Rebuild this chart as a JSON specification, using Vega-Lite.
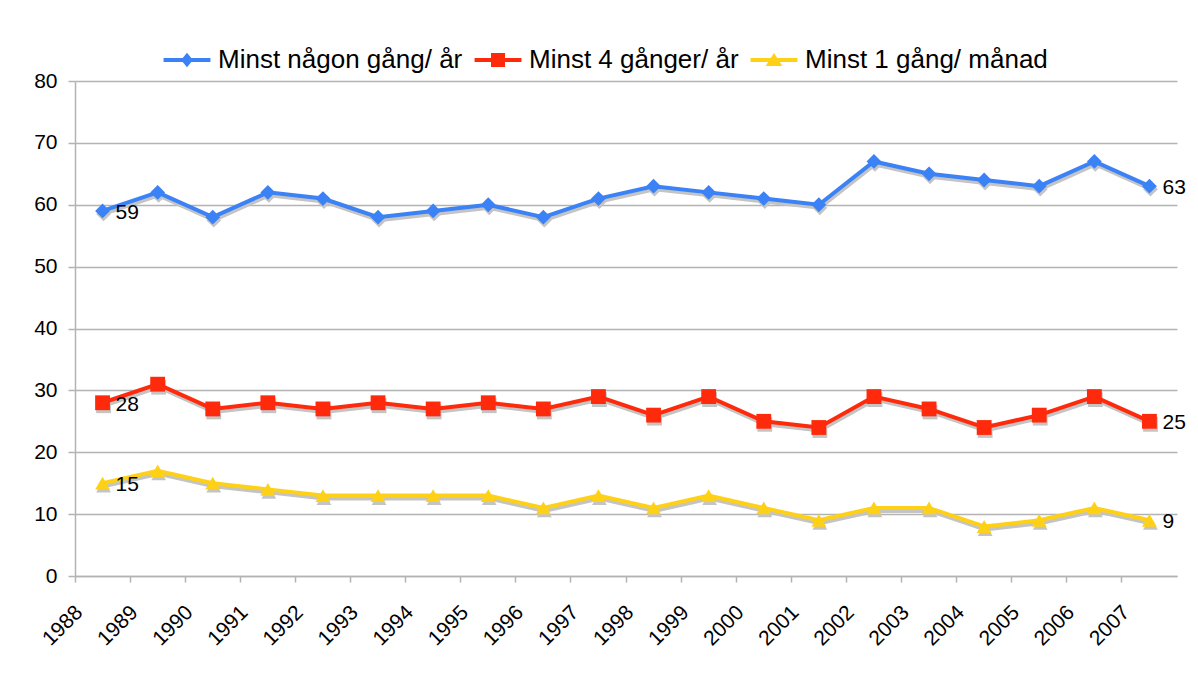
{
  "$schema": "https://vega.github.io/schema/vega-lite/v6.json",
  "width": 1102,
  "height": 495,
  "autosize": "none",
  "padding": {"left": 75, "top": 81, "right": 21, "bottom": 101},
  "background": "white",
  "config": {
    "view": {"stroke": null},
    "font": "Liberation Sans",
    "axis": {"labelFont": "Liberation Sans", "labelColor": "black", "domainColor": "#b3b3b3", "tickColor": "#b3b3b3", "gridColor": "#b3b3b3", "domainWidth": 1.5, "tickWidth": 1.5, "gridWidth": 1.5}
  },
  "data": {
    "values": [
      {"year": "1988", "series": "Minst någon gång/ år", "value": 59},
      {"year": "1989", "series": "Minst någon gång/ år", "value": 62},
      {"year": "1990", "series": "Minst någon gång/ år", "value": 58},
      {"year": "1991", "series": "Minst någon gång/ år", "value": 62},
      {"year": "1992", "series": "Minst någon gång/ år", "value": 61},
      {"year": "1993", "series": "Minst någon gång/ år", "value": 58},
      {"year": "1994", "series": "Minst någon gång/ år", "value": 59},
      {"year": "1995", "series": "Minst någon gång/ år", "value": 60},
      {"year": "1996", "series": "Minst någon gång/ år", "value": 58},
      {"year": "1997", "series": "Minst någon gång/ år", "value": 61},
      {"year": "1998", "series": "Minst någon gång/ år", "value": 63},
      {"year": "1999", "series": "Minst någon gång/ år", "value": 62},
      {"year": "2000", "series": "Minst någon gång/ år", "value": 61},
      {"year": "2001", "series": "Minst någon gång/ år", "value": 60},
      {"year": "2002", "series": "Minst någon gång/ år", "value": 67},
      {"year": "2003", "series": "Minst någon gång/ år", "value": 65},
      {"year": "2004", "series": "Minst någon gång/ år", "value": 64},
      {"year": "2005", "series": "Minst någon gång/ år", "value": 63},
      {"year": "2006", "series": "Minst någon gång/ år", "value": 67},
      {"year": "2007", "series": "Minst någon gång/ år", "value": 63},
      {"year": "1988", "series": "Minst 4 gånger/ år", "value": 28},
      {"year": "1989", "series": "Minst 4 gånger/ år", "value": 31},
      {"year": "1990", "series": "Minst 4 gånger/ år", "value": 27},
      {"year": "1991", "series": "Minst 4 gånger/ år", "value": 28},
      {"year": "1992", "series": "Minst 4 gånger/ år", "value": 27},
      {"year": "1993", "series": "Minst 4 gånger/ år", "value": 28},
      {"year": "1994", "series": "Minst 4 gånger/ år", "value": 27},
      {"year": "1995", "series": "Minst 4 gånger/ år", "value": 28},
      {"year": "1996", "series": "Minst 4 gånger/ år", "value": 27},
      {"year": "1997", "series": "Minst 4 gånger/ år", "value": 29},
      {"year": "1998", "series": "Minst 4 gånger/ år", "value": 26},
      {"year": "1999", "series": "Minst 4 gånger/ år", "value": 29},
      {"year": "2000", "series": "Minst 4 gånger/ år", "value": 25},
      {"year": "2001", "series": "Minst 4 gånger/ år", "value": 24},
      {"year": "2002", "series": "Minst 4 gånger/ år", "value": 29},
      {"year": "2003", "series": "Minst 4 gånger/ år", "value": 27},
      {"year": "2004", "series": "Minst 4 gånger/ år", "value": 24},
      {"year": "2005", "series": "Minst 4 gånger/ år", "value": 26},
      {"year": "2006", "series": "Minst 4 gånger/ år", "value": 29},
      {"year": "2007", "series": "Minst 4 gånger/ år", "value": 25},
      {"year": "1988", "series": "Minst 1 gång/ månad", "value": 15},
      {"year": "1989", "series": "Minst 1 gång/ månad", "value": 17},
      {"year": "1990", "series": "Minst 1 gång/ månad", "value": 15},
      {"year": "1991", "series": "Minst 1 gång/ månad", "value": 14},
      {"year": "1992", "series": "Minst 1 gång/ månad", "value": 13},
      {"year": "1993", "series": "Minst 1 gång/ månad", "value": 13},
      {"year": "1994", "series": "Minst 1 gång/ månad", "value": 13},
      {"year": "1995", "series": "Minst 1 gång/ månad", "value": 13},
      {"year": "1996", "series": "Minst 1 gång/ månad", "value": 11},
      {"year": "1997", "series": "Minst 1 gång/ månad", "value": 13},
      {"year": "1998", "series": "Minst 1 gång/ månad", "value": 11},
      {"year": "1999", "series": "Minst 1 gång/ månad", "value": 13},
      {"year": "2000", "series": "Minst 1 gång/ månad", "value": 11},
      {"year": "2001", "series": "Minst 1 gång/ månad", "value": 9},
      {"year": "2002", "series": "Minst 1 gång/ månad", "value": 11},
      {"year": "2003", "series": "Minst 1 gång/ månad", "value": 11},
      {"year": "2004", "series": "Minst 1 gång/ månad", "value": 8},
      {"year": "2005", "series": "Minst 1 gång/ månad", "value": 9},
      {"year": "2006", "series": "Minst 1 gång/ månad", "value": 11},
      {"year": "2007", "series": "Minst 1 gång/ månad", "value": 9}
    ]
  },
  "encoding": {
    "x": {
      "field": "year", "type": "ordinal",
      "scale": {"type": "band", "paddingInner": 0, "paddingOuter": 0},
      "axis": {"title": null, "bandPosition": 0, "labelAngle": -45, "labelAlign": "right", "labelBaseline": "middle", "labelFontSize": 21, "labelPadding": 27, "tickSize": 6, "grid": false, "labelOffset": -23}
    },
    "y": {
      "field": "value", "type": "quantitative",
      "scale": {"domain": [0, 80], "nice": false},
      "axis": {"title": null, "values": [0, 10, 20, 30, 40, 50, 60, 70, 80], "labelFontSize": 21, "tickSize": 7, "labelPadding": 11, "grid": true}
    }
  },
  "layer": [
    {
      "mark": {"type": "line", "color": "#c4c4c4", "strokeWidth": 4, "xOffset": 1, "yOffset": 3},
      "encoding": {"detail": {"field": "series"}}
    },
    {
      "transform": [{"filter": "datum.series === 'Minst någon gång/ år'"}],
      "mark": {"type": "point", "shape": "diamond", "filled": true, "opacity": 1, "color": "#c4c4c4", "xOffset": 1, "yOffset": 3, "size": 220}
    },
    {
      "transform": [{"filter": "datum.series === 'Minst 4 gånger/ år'"}],
      "mark": {"type": "point", "shape": "square", "filled": true, "opacity": 1, "color": "#c4c4c4", "xOffset": 1, "yOffset": 3, "size": 220}
    },
    {
      "transform": [{"filter": "datum.series === 'Minst 1 gång/ månad'"}],
      "mark": {"type": "point", "shape": "triangle-up", "filled": true, "opacity": 1, "color": "#c4c4c4", "xOffset": 1, "yOffset": 3, "size": 220}
    },
    {
      "mark": {"type": "line", "strokeWidth": 4},
      "encoding": {
        "color": {
          "field": "series", "type": "nominal",
          "scale": {"domain": ["Minst någon gång/ år", "Minst 4 gånger/ år", "Minst 1 gång/ månad"], "range": ["#3b82f6", "#ff2a0c", "#ffd116"]},
          "legend": {
            "title": null, "orient": "none", "direction": "horizontal", "legendX": 99, "legendY": -34,
            "labelFontSize": 26, "labelFont": "Liberation Sans", "labelColor": "black", "labelLimit": 0,
            "symbolSize": 196, "labelOffset": 18, "columnPadding": 11,
            "encode": {
              "symbols": {
                "update": {
                  "shape": {"signal": "datum.value === 'Minst någon gång/ år' ? 'M-3.35,-0.28H3.35V0.28H-3.35Z M0,-1.05L0.85,0L0,1.05L-0.85,0Z' : datum.value === 'Minst 4 gånger/ år' ? 'M-3.35,-0.28H3.35V0.28H-3.35Z M-1,-1H1V1H-1Z' : 'M-3.35,-0.28H3.35V0.28H-3.35Z M0,-1L1.2,0.85H-1.2Z'"},
                  "fill": {"scale": "color", "field": "value"},
                  "fillOpacity": {"value": 1},
                  "strokeWidth": {"value": 0}
                }
              }
            }
          }
        }
      }
    },
    {
      "transform": [{"filter": "datum.series === 'Minst någon gång/ år'"}],
      "mark": {"type": "point", "shape": "diamond", "filled": true, "opacity": 1, "size": 220},
      "encoding": {"color": {"field": "series", "type": "nominal"}}
    },
    {
      "transform": [{"filter": "datum.series === 'Minst 4 gånger/ år'"}],
      "mark": {"type": "point", "shape": "square", "filled": true, "opacity": 1, "size": 220},
      "encoding": {"color": {"field": "series", "type": "nominal"}}
    },
    {
      "transform": [{"filter": "datum.series === 'Minst 1 gång/ månad'"}],
      "mark": {"type": "point", "shape": "triangle-up", "filled": true, "opacity": 1, "size": 220},
      "encoding": {"color": {"field": "series", "type": "nominal"}}
    },
    {
      "transform": [{"filter": "datum.year === '1988' || datum.year === '2007'"}],
      "mark": {"type": "text", "align": "left", "baseline": "middle", "dx": 13, "dy": 2, "fontSize": 21, "font": "Liberation Sans", "color": "black"},
      "encoding": {"text": {"field": "value", "type": "quantitative"}}
    }
  ]
}
